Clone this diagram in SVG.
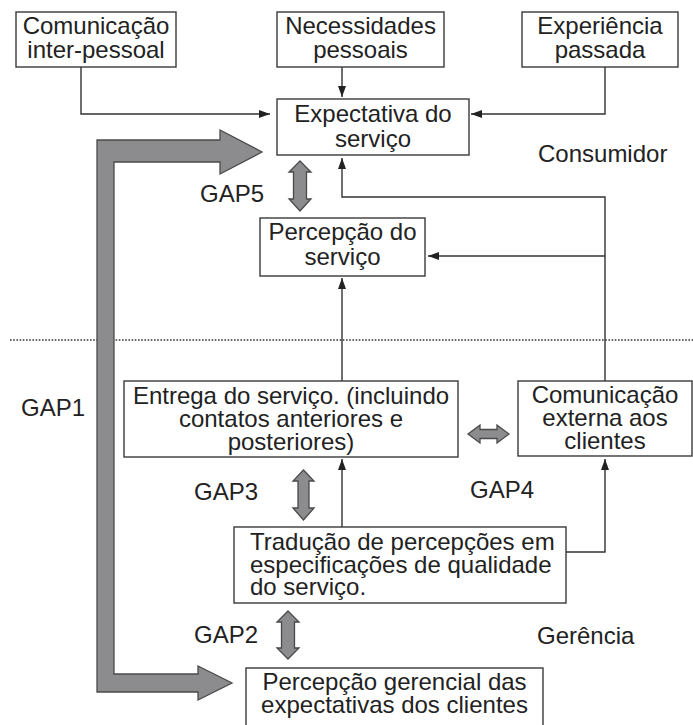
<svg xmlns="http://www.w3.org/2000/svg" width="693" height="725" viewBox="0 0 693 725">
<style>
.box{fill:#fff;stroke:#3a3a3a;stroke-width:1.4}
.t{font-family:"Liberation Sans",Arial,sans-serif;font-size:24px;fill:#222}
.c{text-anchor:middle}
.ln{fill:none;stroke:#333;stroke-width:1.4}
.gap{fill:#8c8c8e;stroke:#4a4a4a;stroke-width:1.3;stroke-linejoin:miter}
</style>
<defs>
<marker id="ah" markerUnits="userSpaceOnUse" markerWidth="11" markerHeight="8" refX="11" refY="4" orient="auto">
<path d="M0,0 L11,4 L0,8 z" fill="#222"/>
</marker>
</defs>
<rect width="693" height="725" fill="#fff"/>

<g id="separator">
<line x1="10" y1="340" x2="693" y2="340" stroke="#333" stroke-width="1.4" stroke-dasharray="1.6 1.6"/>
</g>

<g id="connectors">
<path class="ln" d="M81,67 V114 H270" marker-end="url(#ah)"/>
<path class="ln" d="M342,67 V97" marker-end="url(#ah)"/>
<path class="ln" d="M605,67 V114 H471" marker-end="url(#ah)"/>
<path class="ln" d="M605,381 V197 H342 V158" marker-end="url(#ah)"/>
<path class="ln" d="M605,256 H428" marker-end="url(#ah)"/>
<path class="ln" d="M342,381 V278" marker-end="url(#ah)"/>
<path class="ln" d="M342,527 V459" marker-end="url(#ah)"/>
<path class="ln" d="M566,552 H605 V459" marker-end="url(#ah)"/>
</g>

<g id="gap1-arrow">
<path class="gap" d="M97,140 L220,140 L220,130 L262,152 L220,174 L220,162 L114,162 L114,674 L198,674 L198,666 L232,683 L198,700 L198,692 L97,692 Z"/>
</g>
<g id="gap5-arrow">
<path class="gap" d="M300,161 L311,172 L306.5,172 L306.5,199 L311,199 L300,211 L289,199 L293.5,199 L293.5,172 L289,172 Z"/>
</g>
<g id="gap3-arrow">
<path class="gap" d="M303.5,470 L314,481 L309,481 L309,508 L314,508 L303.5,520 L293,508 L298,508 L298,481 L293,481 Z"/>
</g>
<g id="gap2-arrow">
<path class="gap" d="M288,611 L299,622 L294.5,622 L294.5,648 L299,648 L288,659 L277,648 L281.5,648 L281.5,622 L277,622 Z"/>
</g>
<g id="gap4-arrow">
<path class="gap" d="M468,434 L480,425 L480,429.5 L497,429.5 L497,425 L509,434 L497,443 L497,438.5 L480,438.5 L480,443 Z"/>
</g>

<g id="comunicacao-interpessoal">
<rect class="box" x="16" y="12" width="160" height="55"/>
<text class="t c" x="96" y="33.5">Comunicação<tspan x="96" dy="24.5">inter-pessoal</tspan></text>
</g>
<g id="necessidades">
<rect class="box" x="277" y="12" width="167" height="55"/>
<text class="t c" x="360.5" y="33.5">Necessidades<tspan x="360.5" dy="24.5">pessoais</tspan></text>
</g>
<g id="experiencia">
<rect class="box" x="522" y="12" width="156" height="55"/>
<text class="t c" x="600" y="33.5">Experiência<tspan x="600" dy="24.5">passada</tspan></text>
</g>
<g id="expectativa">
<rect class="box" x="277" y="99" width="192" height="56"/>
<text class="t c" x="373" y="122">Expectativa do<tspan x="373" dy="24.5">serviço</tspan></text>
</g>
<g id="percepcao-servico">
<rect class="box" x="260" y="218" width="165" height="58"/>
<text class="t c" x="342.5" y="240">Percepção do<tspan x="342.5" dy="24.5">serviço</tspan></text>
</g>
<g id="entrega">
<rect class="box" x="124" y="381" width="334" height="76"/>
<text class="t c" x="291" y="404">Entrega do serviço. (incluindo<tspan x="291" dy="22.5">contatos anteriores e</tspan><tspan x="291" dy="23.5">posteriores)</tspan></text>
</g>
<g id="comunicacao-externa">
<rect class="box" x="518" y="381" width="174" height="75"/>
<text class="t c" x="605" y="403">Comunicação<tspan x="605" dy="23">externa aos</tspan><tspan x="605" dy="23">clientes</tspan></text>
</g>
<g id="traducao">
<rect class="box" x="234" y="527" width="332" height="76"/>
<text class="t" x="250" y="550">Tradução de percepções em<tspan x="250" dy="22.5">especificações de qualidade</tspan><tspan x="250" dy="22.5">do serviço.</tspan></text>
</g>
<g id="percepcao-gerencial">
<rect class="box" x="246" y="668" width="297" height="62"/>
<text class="t c" x="394.5" y="690">Percepção gerencial das<tspan x="394.5" dy="23">expectativas dos clientes</tspan></text>
</g>

<g id="labels">
<text class="t" x="538" y="162">Consumidor</text>
<text class="t" x="537" y="644">Gerência</text>
<text class="t" x="200" y="202">GAP5</text>
<text class="t" x="21" y="416">GAP1</text>
<text class="t" x="194" y="500">GAP3</text>
<text class="t" x="470" y="498">GAP4</text>
<text class="t" x="194" y="643">GAP2</text>
</g>
</svg>
